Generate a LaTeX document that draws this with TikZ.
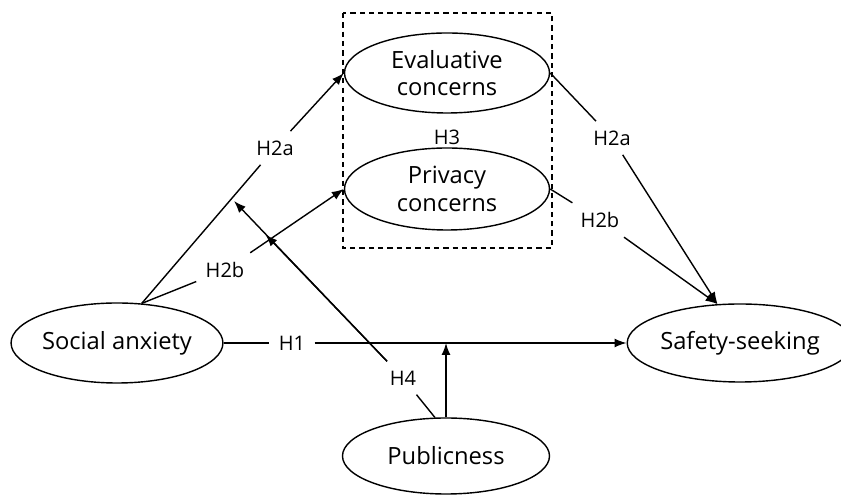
\documentclass[tikz,border=0pt]{standalone}
\usepackage{fontspec}
\setmainfont{Open Sans}
\usetikzlibrary{shapes.geometric,arrows.meta}
\begin{document}
\begin{tikzpicture}[>={Latex[length=2.4mm,width=1.8mm]},thick,
    var/.style={ellipse,draw,align=center,inner sep=0pt,minimum width=4.1cm,minimum height=1.6cm,font=\fontsize{13.5}{15.5}\selectfont},
    hyp/.style={font=\fontsize{11.4}{13}\selectfont,inner sep=5pt}]
    \useasboundingbox (0,0) rectangle (16.82,9.9);

    \draw[dashed,dash pattern=on 3pt off 2.3pt] (6.86,9.64) rectangle (11.04,4.94);

    \node[var] (sa) at (2.34,3.04) {Social anxiety};
    \node[var] (ec) at (8.94,8.44) {Evaluative\\concerns};
    \node[var,minimum height=1.64cm] (pc) at (8.94,6.12) {Privacy\\concerns};
    \node[var,minimum width=3.9cm,minimum height=1.56cm] (ss) at (14.8,3.04) {Safety-seeking};
    \node[var,minimum width=4.14cm,minimum height=1.52cm] (pb) at (8.92,0.78) {Publicness};

    \node[hyp] (h1) at (5.84,3.04) {H1};
    \node[hyp] (h2al) at (5.5,6.94) {H2a};
    \node[hyp] (h2bl) at (4.5,4.5) {H2b};
    \node[hyp] (h2ar) at (12.24,7.14) {H2a};
    \node[hyp] (h2br) at (12.0,5.5) {H2b};
    \node[hyp] (h3) at (8.94,7.16) {H3};
    \node[hyp] (h4) at (8.06,2.34) {H4};

    \coordinate (m1) at (8.92,3.04);
    \coordinate (m2a) at (4.68,5.88);
    \coordinate (m2b) at (5.31,5.21);

    \draw[->] (sa.58) -- (h2al) -- (ec.west);
    \draw[->] (sa.58) -- (h2bl) -- (pc.west);
    \draw[->] (ec.east) -- (h2ar) -- (ss.120);
    \draw[->] (pc.east) -- (h2br) -- (ss.120);
    \draw[->] (sa) -- (h1) -- (ss);
    \draw[->] (pb) -- (m1);
    \draw (pb.106) -- (h4);
    \draw[->] (h4) -- (m2b);
    \draw[->] (h4) -- (m2a);

\end{tikzpicture}
\end{document}
